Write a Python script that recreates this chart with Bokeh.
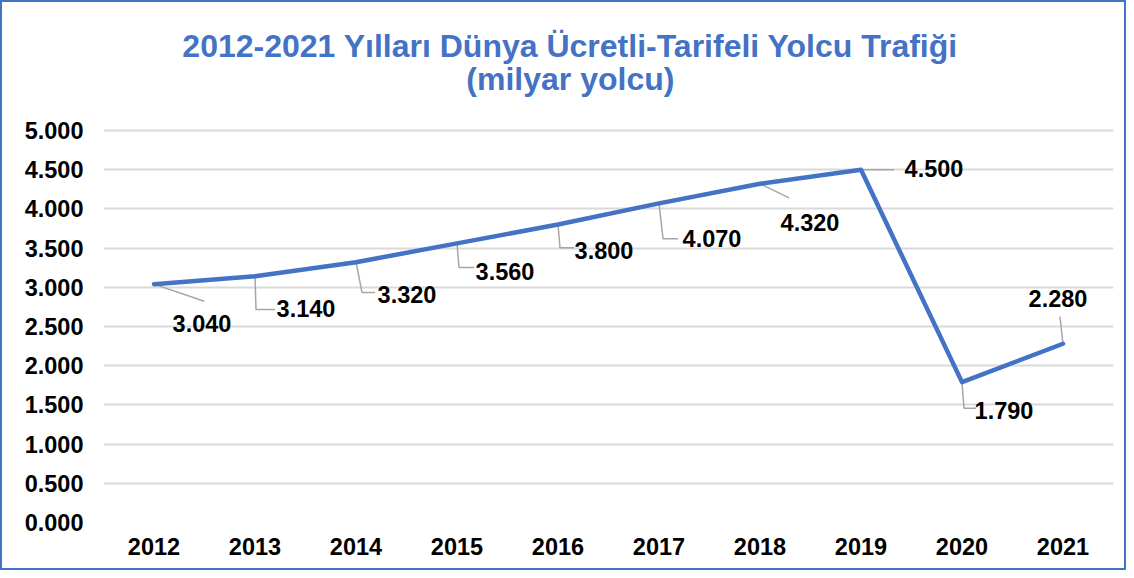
from bokeh.plotting import figure
from bokeh.models import ColumnDataSource, LabelSet, Label, Range1d, FixedTicker, NumeralTickFormatter
from bokeh.core.properties import value
from bokeh.embed import file_html
from bokeh.resources import INLINE

years = ["2012", "2013", "2014", "2015", "2016", "2017", "2018", "2019", "2020", "2021"]
values = [3.04, 3.14, 3.32, 3.56, 3.80, 4.07, 4.32, 4.50, 1.79, 2.28]
value_labels = [f"{v:.3f}" for v in values]

title_line1 = "2012-2021 Yılları Dünya Ücretli-Tarifeli Yolcu Trafiği"
title_line2 = "(milyar yolcu)"

# label placement (screen px, y down) relative to each point
label_dx = [48, 51, 51, 48, 46, 53, 50, 73, 42, -5]
label_dy = [39, 32, 32, 28, 26, 35, 39, -1, 28, -45]
# leader line bends (screen px, y down)
leaders = [
    [(0, 0), (50, 17)],
    [(0, 0), (1, 33), (20, 33)],
    [(0, 0), (6, 30), (19, 30)],
    [(0, 0), (2, 24), (17, 24)],
    [(0, 0), (2, 23), (16, 23)],
    [(0, 0), (4, 35), (19, 35)],
    [(0, 0), (29, 14)],
    [(0, 0), (33, 0)],
    [(0, 0), (2, 26), (14, 26)],
    [(0, 0), (-3, -27)],
]

BLUE = "#4472C4"
FONT = "Liberation Sans"

W, H = 1126, 570
CW, CH = W - 4, H - 4  # inside the 2px border
ML, MR, MT, MB = 101, 15, 4, 50
PLOT_TOP = 127           # canvas y of the 5.000 gridline
frame_w = CW - ML - MR
frame_bottom = CH - MB
px_x = frame_w / 10.0                   # px per index unit
px_y = (frame_bottom - PLOT_TOP) / 5.0  # px per value unit
y_max = 5.0 + (PLOT_TOP - MT) / px_y

idx = list(range(len(years)))

p = figure(width=W, height=H, output_backend="svg", toolbar_location=None,
           x_range=Range1d(-0.5, 9.5), y_range=Range1d(0, y_max),
           min_border_left=ML, min_border_right=MR, min_border_top=MT, min_border_bottom=MB)
p.styles = {"border": f"2px solid {BLUE}", "box-sizing": "border-box"}
p.outline_line_color = None
p.background_fill_color = "white"
p.border_fill_color = "white"

p.xgrid.grid_line_color = None
p.ygrid.grid_line_color = "#D9D9D9"
p.ygrid.grid_line_width = 2

p.yaxis.ticker = FixedTicker(ticks=[i * 0.5 for i in range(11)])
p.yaxis.formatter = NumeralTickFormatter(format="0.000")
p.xaxis.ticker = FixedTicker(ticks=idx)
p.xaxis.major_label_overrides = {i: y for i, y in enumerate(years)}
for ax in (p.xaxis, p.yaxis):
    ax.axis_line_color = None
    ax.major_tick_line_color = None
    ax.minor_tick_line_color = None
    ax.major_tick_out = 0
    ax.major_tick_in = 0
    ax.major_label_text_font = FONT
    ax.major_label_text_font_style = "bold"
    ax.major_label_text_font_size = "23.5px"
    ax.major_label_text_color = "black"
p.yaxis.major_label_standoff = 20
p.xaxis.major_label_standoff = 15

# leader lines
xs, ys = [], []
for i, pts in enumerate(leaders):
    xs.append([idx[i] + dx / px_x for dx, dy in pts])
    ys.append([values[i] - dy / px_y for dx, dy in pts])
p.multi_line(xs, ys, line_color="#A6A6A6", line_width=1.5)

p.line(idx, values, line_color=BLUE, line_width=4.5, line_join="round", line_cap="round")

src = ColumnDataSource(dict(x=idx, y=values, t=value_labels,
                            xo=label_dx, yo=[-d for d in label_dy]))
p.add_layout(LabelSet(x="x", y="y", text="t", source=src, x_offset="xo", y_offset="yo",
                      text_align="center", text_baseline="middle",
                      text_font=value(FONT), text_font_style="bold", text_font_size="23.5px",
                      text_color="black"))

# title (two centred lines), placed in pixels above the 5.000 gridline
title_cx = 568 - 2 - ML          # canvas-x of the title centre, relative to frame left
for txt, cy in ((title_line1, 43), (title_line2, 76)):
    p.add_layout(Label(x=-0.5 + title_cx / px_x, y=5.0 + (PLOT_TOP - cy) / px_y, text=txt,
                       text_align="center", text_baseline="middle", text_font=FONT,
                       text_font_style="bold", text_font_size="32px", text_color=BLUE))

open("out.html", "w").write(file_html(p, INLINE))
